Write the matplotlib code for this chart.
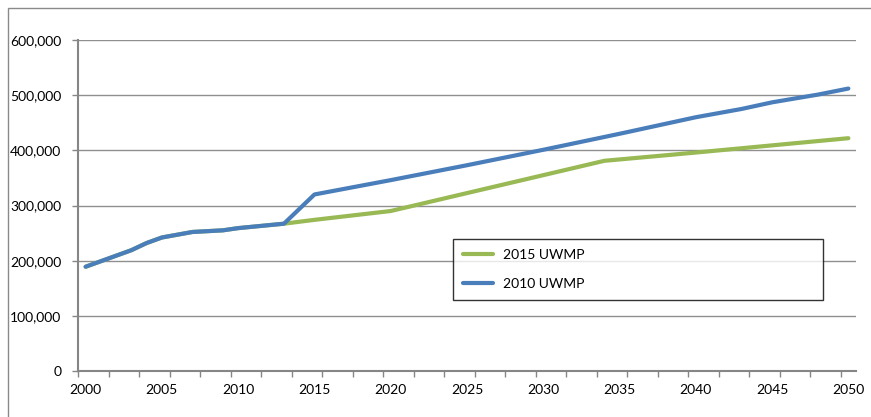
import matplotlib
matplotlib.use('Agg')
import matplotlib.pyplot as plt
from matplotlib.patches import Rectangle
from matplotlib.ticker import FuncFormatter

# population projections (year, value)
hist_years = [2000, 2003, 2004, 2005, 2007, 2009, 2010, 2013]
hist_values = [189000, 219000, 232000, 242000, 252000, 255000, 259000, 267000]

uwmp2015_years = hist_years + [2015, 2020, 2034, 2040, 2050]
uwmp2015_values = hist_values + [274000, 290000, 381000, 396000, 422000]

uwmp2010_years = hist_years + [2015, 2020, 2025, 2030, 2035, 2040, 2043, 2045, 2048, 2050]
uwmp2010_values = hist_values + [320000, 346000, 373000, 401000, 430000, 460000, 475000, 487000, 501000, 512000]

first_year, last_year = 2000, 2050
label_years = list(range(2000, 2051, 5))

plt.rcParams['font.family'] = ['Lato', 'DejaVu Sans']
plt.rcParams['font.size'] = 10

fig = plt.figure(figsize=(8.71, 4.17), dpi=100)
ax = fig.add_axes([78 / 871, 1 - 371 / 417, 778 / 871, 331 / 417])

# frame around the chart area
fig.patches.append(Rectangle((8 / 871, -0.1), 1.2, 1.1 - 8 / 417, transform=fig.transFigure,
                             fill=False, edgecolor='#8a8a8a', lw=1))


def cat_pos(years):
    # category axis: each year sits in the middle of its slot
    return [y - first_year + 0.5 for y in years]


green = '#98b954'
blue = '#4a7ebb'
ax.plot(cat_pos(uwmp2015_years), uwmp2015_values, color=green, lw=3,
        solid_capstyle='round', solid_joinstyle='round', label='2015 UWMP', zorder=3)
ax.plot(cat_pos(uwmp2010_years), uwmp2010_values, color=blue, lw=3,
        solid_capstyle='round', solid_joinstyle='round', label='2010 UWMP', zorder=4)

n_cat = last_year - first_year + 1
ax.set_xlim(0, n_cat)
ax.set_ylim(0, 600000)
ax.set_yticks(range(0, 600001, 100000))
ax.yaxis.set_major_formatter(FuncFormatter(lambda v, p: f'{int(v):,}'))
ax.set_xticks(cat_pos(label_years))
ax.set_xticklabels([str(y) for y in label_years])
ax.set_xticks(list(range(0, n_cat, 2)), minor=True)
ax.tick_params(axis='x', which='major', length=0, pad=9)
ax.tick_params(axis='x', which='minor', length=4, width=1, color='#868686')
ax.tick_params(axis='y', length=4, width=1, color='#868686', pad=8)

ax.grid(axis='y', color='#8f8f8f', lw=1)
ax.set_axisbelow(True)
for side in ('top', 'right'):
    ax.spines[side].set_visible(False)
for side in ('left', 'bottom'):
    ax.spines[side].set_color('#868686')
    ax.spines[side].set_linewidth(1.5)

leg = ax.legend(loc='lower left', bbox_to_anchor=(0.482, 0.2145, 0.4756, 0.199),
                mode='expand', borderaxespad=0, frameon=True, fancybox=False,
                handlelength=2.2, handletextpad=0.7, labelspacing=1.25, borderpad=0.7)
leg.get_frame().set_edgecolor('black')
leg.get_frame().set_linewidth(1)

fig.savefig('out.png', dpi=100)
